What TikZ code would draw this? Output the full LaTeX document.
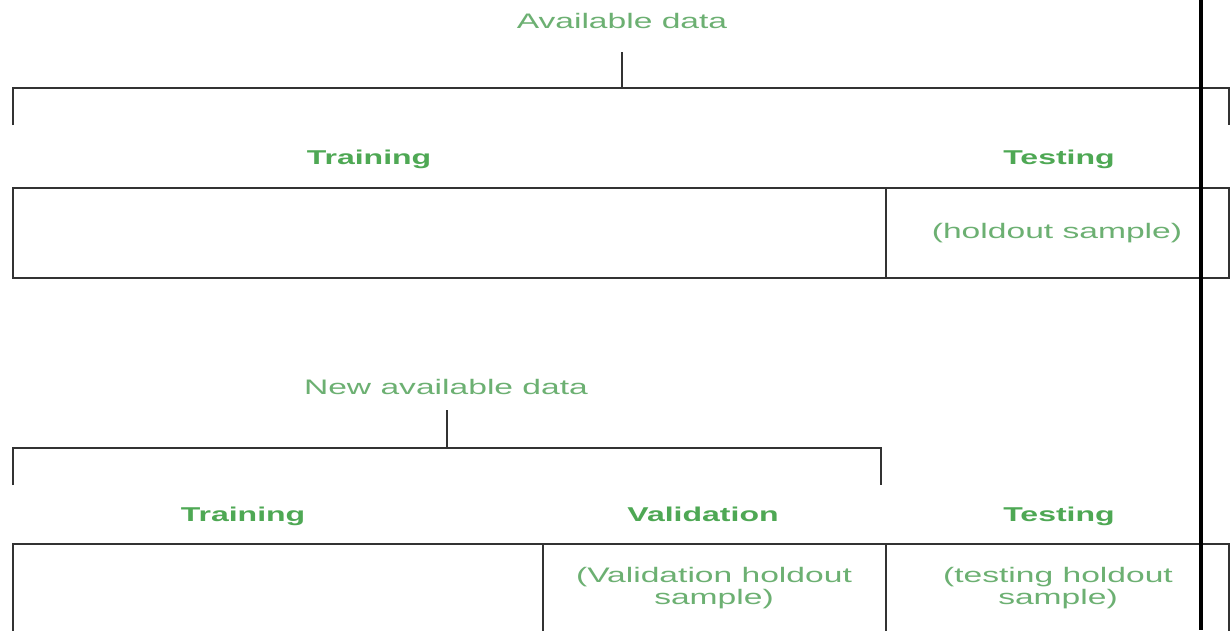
\documentclass[tikz,border=0pt]{standalone}
\usepackage{fontspec}
\newfontfamily\widesans[FakeStretch=1.6]{Liberation Sans}
\definecolor{headgreen}{RGB}{78,168,84}
\definecolor{notegreen}{RGB}{108,176,114}
\definecolor{rulegray}{RGB}{50,50,50}
\tikzset{
  rule/.style={draw=rulegray, line width=2pt},
  heading/.style={font=\widesans\fontsize{20}{22}\selectfont\bfseries, text=headgreen, inner sep=0pt, text height=14pt, text depth=4pt, anchor=center},
  caption/.style={font=\widesans\fontsize{21}{22}\selectfont, text=notegreen, inner sep=0pt, anchor=center, align=center},
}
\begin{document}
\begin{tikzpicture}[x=1pt, y=-1pt]
\useasboundingbox (0,0) rectangle (1232,630);
\fill[white] (0,0) rectangle (1232,630);

% ---- first split: training / testing
\node[caption] (avail) at (622,21) {Available data};
\coordinate (stemA) at (622,52);
\coordinate (brA) at (622,88);
\coordinate (brAL) at (13,88);
\coordinate (brAR) at (1229,88);
\coordinate (tickAL) at (13,125);
\coordinate (tickAR) at (1229,125);
\draw[rule] (stemA) -- (brA);
\draw[rule] (tickAL) -- (brAL) -- (brAR) -- (tickAR);

\node[heading] (trainA) at (369,159) {Training};
\node[heading] (testA) at (1059,159) {Testing};

\coordinate (boxA1) at (13,188);
\coordinate (boxA2) at (1229,278);
\coordinate (divAt) at (886,188);
\coordinate (divAb) at (886,278);
\draw[rule] (boxA1) rectangle (boxA2);
\draw[rule] (divAt) -- (divAb);
\node[caption] (holdA) at (1057,233) {(holdout sample)};

% ---- second split: training / validation / testing
\node[caption] (newavail) at (446,387) {New available data};
\coordinate (stemB) at (447,410);
\coordinate (brB) at (447,448);
\coordinate (brBL) at (13,448);
\coordinate (brBR) at (881,448);
\coordinate (tickBL) at (13,485);
\coordinate (tickBR) at (881,485);
\draw[rule] (stemB) -- (brB);
\draw[rule] (tickBL) -- (brBL) -- (brBR) -- (tickBR);

\node[heading] (trainB) at (243,516) {Training};
\node[heading] (valB) at (703,516) {Validation};
\node[heading] (testB) at (1059,516) {Testing};

\coordinate (boxBL) at (13,544);
\coordinate (boxBR) at (1229,544);
\coordinate (boxBLb) at (13,632);
\coordinate (boxBRb) at (1229,632);
\coordinate (div1t) at (543,544);
\coordinate (div1b) at (543,632);
\coordinate (div2t) at (886,544);
\coordinate (div2b) at (886,632);
\draw[rule] (boxBLb) -- (boxBL) -- (boxBR) -- (boxBRb);
\draw[rule] (div1t) -- (div1b);
\draw[rule] (div2t) -- (div2b);
\node[caption] (holdV) at (714,588) {(Validation holdout\\sample)};
\node[caption] (holdT) at (1058,588) {(testing holdout\\sample)};

% ---- black vertical rule across the page
\coordinate (vtop) at (1201,0);
\coordinate (vbot) at (1201,630);
\draw[black, line width=4pt] (vtop) -- (vbot);
\end{tikzpicture}
\end{document}
